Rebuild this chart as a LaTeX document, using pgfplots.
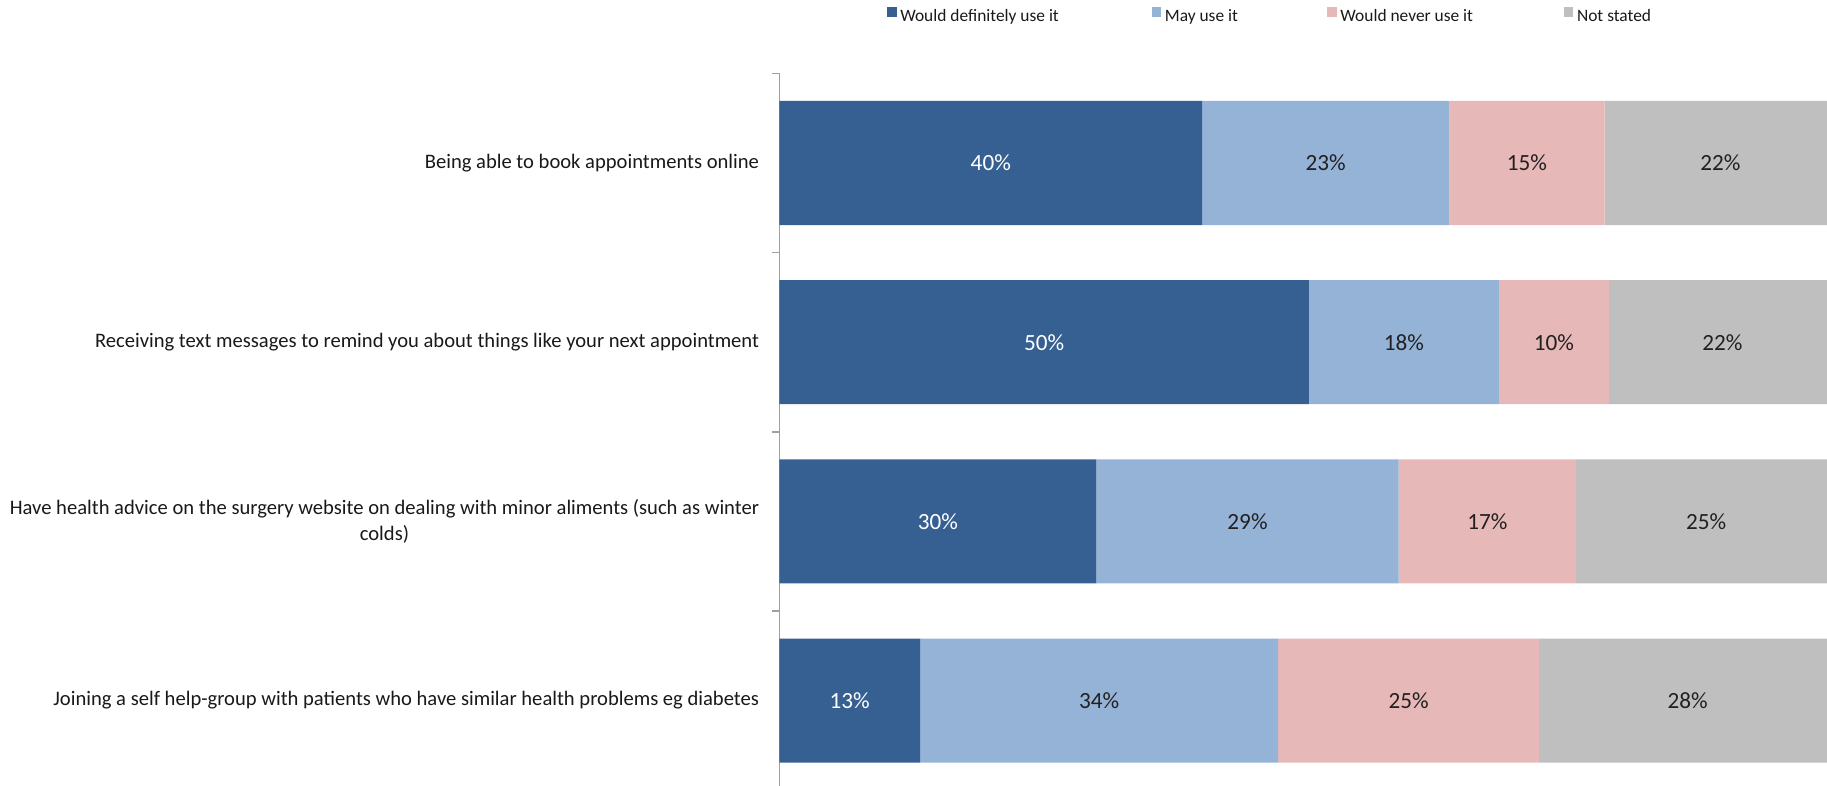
\documentclass[border=0pt]{standalone}
\usepackage{fontspec}
\setmainfont{Carlito}
\usepackage{pgfplots}
\pgfplotsset{compat=1.18}
\definecolor{cDef}{RGB}{55,96,146}
\definecolor{cMay}{RGB}{149,179,215}
\definecolor{cNever}{RGB}{230,184,183}
\definecolor{cNot}{RGB}{191,191,191}
\definecolor{axgray}{RGB}{160,160,160}
\begin{document}
\begin{tikzpicture}
\useasboundingbox (0,0) rectangle (913.5pt,393pt);
\clip (0,0) rectangle (913.5pt,393pt);
\begin{axis}[
  at={(389.75pt,-2.1pt)}, anchor=south west,
  scale only axis, width=528.25pt, height=358.4pt,
  xbar stacked, bar width=62pt,
  xmin=0, xmax=100,
  ymin=-0.5, ymax=3.5, y dir=reverse,
  axis x line=none,
  axis y line*=left,
  y axis line style={axgray, line width=0.7pt, -},
  ytick={0,1,2,3},
  yticklabels={Being able to book appointments online,
               Receiving text messages to remind you about things like your next appointment,
               {Have health advice on the surgery website on dealing with minor aliments (such as winter\\colds)},
               Joining a self help-group with patients who have similar health problems eg diabetes},
  minor ytick={-0.5,0.5,1.5,2.5,3.5},
  major tick length=0pt, minor tick length=3.5pt,
  tick align=outside,
  minor tick style={axgray, line width=0.7pt},
  yticklabel style={font=\fontsize{10.3}{13}\selectfont, align=center, inner sep=0pt, xshift=-10pt, text=black!90},
  point meta=explicit symbolic,
  nodes near coords={\pgfplotspointmeta\%},
  nodes near coords style={font=\fontsize{11.6}{13}\selectfont, anchor=center, text=black!87},
  legend columns=4,
  legend image code/.code={\fill[#1] (0pt,0pt) rectangle (4.8pt,4.8pt);},
  legend style={at={(0.10175,1.0802)}, anchor=west, draw=none, fill=none,
                inner sep=0pt, outer sep=0pt, column sep=0pt,
                font=\fontsize{8.7}{10}\selectfont, text=black!90,
                nodes={inner sep=0pt}},
]
\addplot[fill=cDef, draw=none, every node near coord/.append style={text=white}]
  coordinates {(40,0)[40] (50.1,1)[50] (30,2)[30] (13.3,3)[13]};
\addlegendentry{\hspace{1.85pt}\makebox[125.65pt][l]{Would definitely use it}}
\addplot[fill=cMay, draw=none]
  coordinates {(23.4,0)[23] (18,1)[18] (28.6,2)[29] (33.9,3)[34]};
\addlegendentry{\hspace{1.85pt}\makebox[81.15pt][l]{May use it}}
\addplot[fill=cNever, draw=none]
  coordinates {(14.7,0)[15] (10.4,1)[10] (16.8,2)[17] (24.7,3)[25]};
\addlegendentry{\hspace{1.85pt}\makebox[111.65pt][l]{Would never use it}}
\addplot[fill=cNot, draw=none]
  coordinates {(21.9,0)[22] (21.5,1)[22] (24.6,2)[25] (28.1,3)[28]};
\addlegendentry{\hspace{1.85pt}Not stated}
\end{axis}
\end{tikzpicture}
\end{document}
